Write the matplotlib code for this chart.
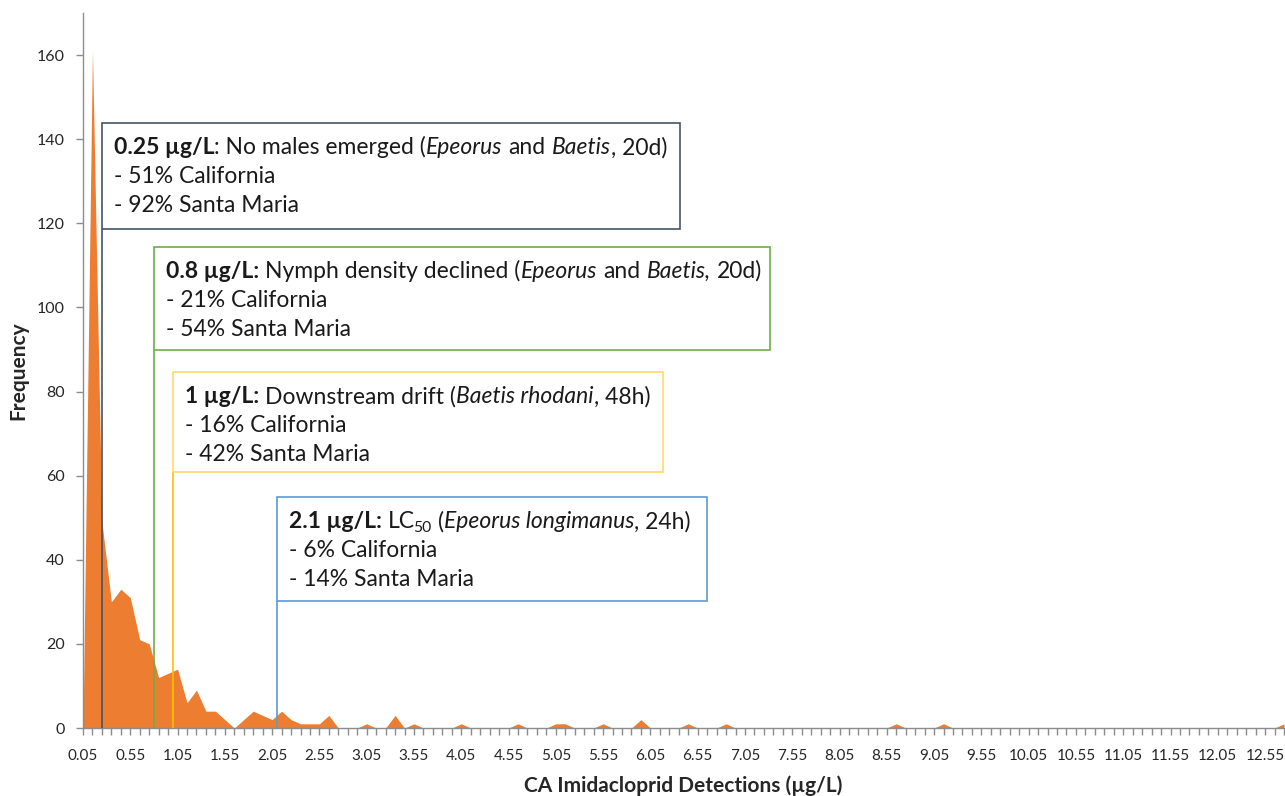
import numpy as np
import matplotlib
matplotlib.use("Agg")
import matplotlib.pyplot as plt
from matplotlib.patches import Rectangle

plt.rcParams['font.family'] = ['Lato', 'DejaVu Sans']

# ---------------- data ----------------
# bin centres (µg/L), one category every 0.1 µg/L
bin_centres = np.round(np.arange(0.05, 12.80, 0.1), 2)
cat_labels = [f"{v:.2f}" for v in bin_centres]

# frequency per bin
freq = np.zeros(len(bin_centres))
first_bins = [0, 161, 49, 30, 33, 31, 21, 20, 12, 13, 14, 6, 9, 4, 4, 2, 0, 2, 4, 3,
              2, 4, 2, 1, 1, 1, 3, 0, 0, 0, 1, 0, 0, 3, 0, 1]
freq[:len(first_bins)] = first_bins
sparse_bins = {4.05: 1, 4.65: 1, 5.05: 1, 5.15: 1, 5.55: 1, 5.95: 2, 6.45: 1,
               6.85: 1, 8.65: 1, 9.15: 1, 12.75: 1}
for k, v in sparse_bins.items():
    freq[int(round((k - 0.05) / 0.1))] = v

# annotation thresholds
thresholds = [0.25, 0.8, 1.0, 2.1]
box_colors = ['#44546A', '#70AD47', '#FFD966', '#5B9BD5']
line_colors = ['#44546A', '#70AD47', '#FFC000', '#5B9BD5']
# each line: list of (text, weight, style, subscript)
texts = [
    [[("0.25 µg/L", 'bold', 'normal', False), (": No males emerged (", 'normal', 'normal', False),
      ("Epeorus", 'normal', 'italic', False), (" and ", 'normal', 'normal', False),
      ("Baetis", 'normal', 'italic', False), (", 20d)", 'normal', 'normal', False)],
     [("- 51% California", 'normal', 'normal', False)],
     [("- 92% Santa Maria", 'normal', 'normal', False)]],
    [[("0.8 µg/L:", 'bold', 'normal', False), (" Nymph density declined (", 'normal', 'normal', False),
      ("Epeorus", 'normal', 'italic', False), (" and ", 'normal', 'normal', False),
      ("Baetis,", 'normal', 'italic', False), (" 20d)", 'normal', 'normal', False)],
     [("- 21% California", 'normal', 'normal', False)],
     [("- 54% Santa Maria", 'normal', 'normal', False)]],
    [[("1 µg/L:", 'bold', 'normal', False), (" Downstream drift (", 'normal', 'normal', False),
      ("Baetis rhodani", 'normal', 'italic', False), (", 48h)", 'normal', 'normal', False)],
     [("- 16% California", 'normal', 'normal', False)],
     [("- 42% Santa Maria", 'normal', 'normal', False)]],
    [[("2.1 µg/L:", 'bold', 'normal', False), (" LC", 'normal', 'normal', False),
      ("50", 'normal', 'normal', True), (" (", 'normal', 'normal', False),
      ("Epeorus longimanus", 'normal', 'italic', False), (", 24h)", 'normal', 'normal', False)],
     [("- 6% California", 'normal', 'normal', False)],
     [("- 14% Santa Maria", 'normal', 'normal', False)]],
]
# box extents (right edge in category index, top / bottom in frequency units)
box_right = [63.1, 72.6, 61.3, 66.0]
box_top = [143.8, 114.4, 84.6, 54.9]
box_bottom = [118.6, 89.9, 60.9, 30.2]

# ---------------- figure ----------------
W, H = 1285, 796
fig = plt.figure(figsize=(W / 100, H / 100), dpi=100)
ax = fig.add_axes([83 / W, 68 / H, 1201 / W, 715 / H])

xs = np.arange(len(bin_centres))
ax.fill_between(xs, freq, 0, color='#ED7D31', lw=0, zorder=2)
ax.set_xlim(0, len(bin_centres) - 1)
ax.set_ylim(0, 170)

axis_col = '#8C8C8C'
for s in ['top', 'right']:
    ax.spines[s].set_visible(False)
for s in ['left', 'bottom']:
    ax.spines[s].set_color(axis_col)
    ax.spines[s].set_linewidth(1.0)

ax.set_xticks(xs[::5])
ax.set_xticklabels([cat_labels[i] for i in xs[::5]])
ax.set_xticks(xs, minor=True)
ax.set_yticks(np.arange(0, 161, 20))
ax.tick_params(axis='x', which='both', direction='out', length=5, width=1, color=axis_col,
               labelsize=11, labelcolor='#262626', pad=10)
ax.tick_params(axis='y', which='both', direction='out', length=5, width=1, color=axis_col,
               labelsize=11.5, labelcolor='#262626', pad=8)

ax.set_xlabel("CA Imidacloprid Detections (µg/L)", fontsize=15, fontweight='bold',
              color='#262626', va='center')
ax.set_ylabel("Frequency", fontsize=15, fontweight='bold', color='#262626', va='center', ha='center')
ax.xaxis.set_label_coords(0.5, (728 - 786) / 715)
ax.yaxis.set_label_coords((18 - 83) / 1201, 0.5)

FS = 16.5
SPACE = 0.27 * FS * 100 / 72  # pixels
renderer = fig.canvas.get_renderer()


def draw_line(x0, y0, dx, dy, segs):
    cur = dx
    for text, weight, style, sub in segs:
        lead = len(text) - len(text.lstrip(' '))
        trail = len(text) - len(text.rstrip(' '))
        t = text.strip(' ')
        fs = FS * 0.68 if sub else FS
        cur += lead * SPACE
        a = ax.annotate(t, xy=(x0, y0), xycoords='data',
                        xytext=(cur - (1.5 if sub else 0), dy - (4 if sub else 0)),
                        textcoords='offset pixels', va='baseline', ha='left', fontsize=fs,
                        fontweight=weight, fontstyle=style, color='#1a1a1a',
                        annotation_clip=False, zorder=5)
        bb = a.get_window_extent(renderer)
        cur += bb.width + trail * SPACE - (1.5 if sub else 0)


for k, thr in enumerate(thresholds):
    xi = (thr - 0.05) / 0.1
    ax.plot([xi, xi], [0, box_bottom[k]], color=line_colors[k], lw=1.2, zorder=3,
            solid_capstyle='butt')
    rect = Rectangle((xi, box_bottom[k]), box_right[k] - xi, box_top[k] - box_bottom[k],
                     facecolor='white', edgecolor=box_colors[k], lw=1.2, zorder=4)
    ax.add_patch(rect)
    for j, segs in enumerate(texts[k]):
        draw_line(xi, box_top[k], 12, -31 - 29 * j, segs)

fig.savefig("out.png", dpi=100)
